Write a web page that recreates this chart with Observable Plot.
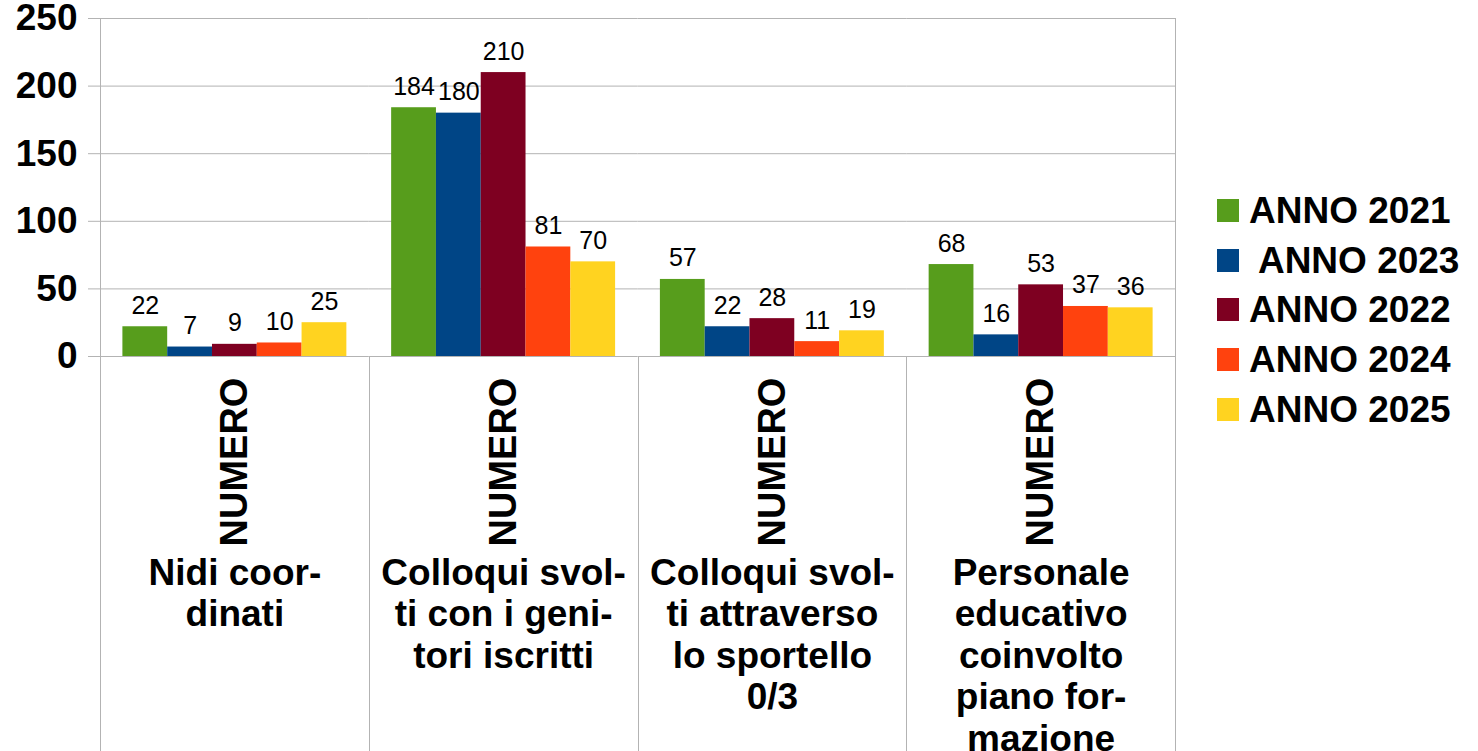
<!DOCTYPE html>
<html>
<head>
<meta charset="utf-8">
<script src="https://cdn.jsdelivr.net/npm/d3@7"></script>
<script src="https://cdn.jsdelivr.net/npm/@observablehq/plot@0.6"></script>
<style>
  html, body { margin: 0; padding: 0; background: #fff; }
  #wrap { position: relative; width: 1478px; height: 751px; font-family: "Liberation Sans", Arial, sans-serif; }
  #legend { position: absolute; left: 1217px; top: 199px; }
  .row { display: flex; align-items: center; height: 23px; margin-bottom: 26.7px; }
  .sw { width: 22px; height: 23px; margin-right: 10px; flex: none; }
  .lab { font-size: 37px; font-weight: bold; white-space: pre; line-height: 23px; color: #000; }
</style>
</head>
<body>
<div id="wrap"></div>
<script>
// ---- data ----
const categories = ["Nidi coordinati", "Colloqui svolti con i genitori iscritti", "Colloqui svolti attraverso lo sportello 0/3", "Personale educativo coinvolto piano formazione"];
const categoryLabels = ["Nidi coor-\ndinati", "Colloqui svol-\nti con i geni-\ntori iscritti", "Colloqui svol-\nti attraverso\nlo sportello\n0/3", "Personale\neducativo\ncoinvolto\npiano for-\nmazione"];
const subLabels = ["NUMERO", "NUMERO", "NUMERO", "NUMERO"];
const series = ["ANNO 2021", " ANNO 2023", "ANNO 2022", "ANNO 2024", "ANNO 2025"];
const colors = ["#579d1c", "#004586", "#7e0021", "#ff420e", "#ffd320"];
const anno2021 = [22, 184, 57, 68];
const anno2023 = [7, 180, 22, 16];
const anno2022 = [9, 210, 28, 53];
const anno2024 = [10, 81, 11, 37];
const anno2025 = [25, 70, 19, 36];
const yTicks = [0, 50, 100, 150, 200, 250];

(function () {
const seriesValues = [anno2021, anno2023, anno2022, anno2024, anno2025];
const table = [];
categories.forEach((c, ci) => {
  series.forEach((s, si) => table.push({category: c, series: s, value: seriesValues[si][ci]}));
});

const W = 1478, H = 751;
const font = "'Liberation Sans', Arial, sans-serif";

const plot = Plot.plot({
  width: W,
  height: H,
  marginLeft: 100,
  marginRight: 303,
  marginTop: 18,
  marginBottom: 395,
  style: {fontFamily: font, background: "#fff", color: "#000", overflow: "visible"},
  fx: {domain: categories, padding: 0, round: false, axis: null},
  x: {domain: series, paddingInner: 0, paddingOuter: 0.5, round: false, axis: null},
  y: {domain: [0, 250], axis: null},
  color: {domain: series, range: colors},
  marks: [
    Plot.gridY(yTicks, {stroke: "#b3b3b3", strokeOpacity: 1, strokeWidth: 1}),
    Plot.axisY({ticks: yTicks, tickSize: 12, tickPadding: 11, fontSize: 37, fontWeight: "bold", stroke: "#b3b3b3", fill: "#000", label: null}),
    Plot.barY(table, {fx: "category", x: "series", y: "value", fill: "series"}),
    Plot.text(table, {fx: "category", x: "series", y: "value", text: "value", dy: -13, lineAnchor: "bottom", fontSize: 25, fill: "#000"}),
    Plot.text(categories, {fx: d => d, text: (d, i) => subLabels[i], frameAnchor: "bottom", rotate: -90, textAnchor: "start", lineAnchor: "middle", dy: 190, fontSize: 38, fontWeight: "bold", fill: "#000"}),
    Plot.text(categories, {fx: d => d, text: (d, i) => categoryLabels[i], frameAnchor: "bottom", lineAnchor: "top", lineHeight: 1.12, dy: 199, fontSize: 37, fontWeight: "bold", fill: "#000"})
  ]
});

// category separators derived from the fx and y scales
const fxs = plot.scale("fx");
const ys = plot.scale("y");
const bw = fxs.bandwidth;
const yTop = ys.apply(250), yBase = ys.apply(0);
const edges = categories.map((c, i) => ({x: fxs.apply(c), full: i === 0}));
edges.push({x: fxs.apply(categories[categories.length - 1]) + bw, full: true});
const g = d3.select(plot).append("g").attr("stroke", "#b3b3b3").attr("stroke-width", 1);
edges.forEach(e => {
  g.append("line").attr("x1", Math.round(e.x) + 0.5).attr("x2", Math.round(e.x) + 0.5)
    .attr("y1", e.full ? yTop : yBase).attr("y2", H);
});

const wrap = document.getElementById("wrap");
wrap.appendChild(plot);

// legend
const legend = document.createElement("div");
legend.id = "legend";
series.forEach((s, i) => {
  const row = document.createElement("div");
  row.className = "row";
  const sw = document.createElement("div");
  sw.className = "sw";
  sw.style.background = colors[i];
  const lab = document.createElement("div");
  lab.className = "lab";
  lab.textContent = s;
  row.appendChild(sw);
  row.appendChild(lab);
  legend.appendChild(row);
});
wrap.appendChild(legend);
})();
</script>
</body>
</html>
